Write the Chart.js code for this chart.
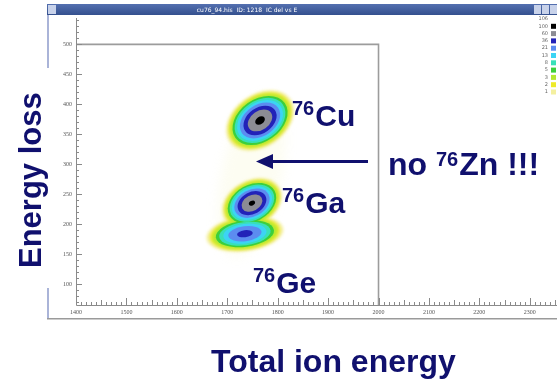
<!DOCTYPE html>
<html>
<head>
<meta charset="utf-8">
<style>
  html, body { margin: 0; padding: 0; background: #fff; }
  #wrap { width: 557px; height: 387px; }
</style>
<script src="https://cdn.jsdelivr.net/npm/chart.js@4.4.1/dist/chart.umd.min.js"></script>
</head>
<body>
<div id="wrap"><canvas id="myChart" width="557" height="387"></canvas></div>
<script>
// axis tick labels
const xTickLabels = [1400, 1500, 1600, 1700, 1800, 1900, 2000, 2100, 2200, 2300];
const yTickLabels = [100, 150, 200, 250, 300, 350, 400, 450, 500];

// blobs of the 2D histogram (total energy vs energy loss)
const blobNames = ['76Cu', '76Ga', '76Ge', 'tail'];
const blobE = [1765, 1749, 1735, 1748];
const blobDE = [373, 235, 184, 280];
const blobSigmaE = [22, 19.5, 28, 75];
const blobSigmaDE = [16.5, 13.7, 11, 150];
const blobRho = [0.32, 0.28, 0.22, 0.45];
const blobPeak = [110, 105, 42, 1.5];

// colour scale (counts)
const colorLevels = [1, 2, 3, 5, 8, 13, 21, 36, 60, 100];
const levelColors = ['#f4f0a0', '#eeea2a', '#b4e832', '#3ccf3c', '#38e0b8',
                     '#3cd4f4', '#5c8cf0', '#2222b8', '#8c8c94', '#000000'];
const scaleLabels = ['106', '100', '60', '36', '21', '13', '8', '5', '3', '2', '1'];

// gate drawn on the histogram
const gateE = [1400, 2000, 2000];
const gateDE = [500, 500, 65];

const navy = '#10106e';

const windowChrome = {
    id: 'windowChrome',
    beforeDraw(chart) {
        const c = chart.ctx;
        c.save();
        c.fillStyle = '#fff';
        c.fillRect(0, 0, chart.width, chart.height);
        // title bar
        const g = c.createLinearGradient(0, 4, 0, 15);
        g.addColorStop(0, '#5470b0');
        g.addColorStop(1, '#34508e');
        c.fillStyle = g;
        c.fillRect(47, 4, 510, 11);
        c.fillStyle = '#c8d2ea';
        c.fillRect(48, 5, 8, 9);
        [534, 542, 550].forEach(x => c.fillRect(x, 5, 7, 9));
        c.fillStyle = '#fff';
        c.font = '6px "DejaVu Sans"';
        c.textAlign = 'center';
        c.textBaseline = 'middle';
        c.fillText('cu76_94.his  ID: 1218  IC del vs E', 247, 10);
        // borders
        c.fillStyle = '#aab4d8';
        c.fillRect(47, 15, 2, 53);
        c.fillRect(47, 288, 2, 31);
        c.fillStyle = '#9a9a9a';
        c.fillRect(47, 318, 510, 1.5);
        c.restore();
    }
};

function blobEllipse(c, xs, ys, i, level) {
    const r = Math.sqrt(2 * Math.log(blobPeak[i] / level));
    const cx = xs.getPixelForValue(blobE[i]);
    const cy = ys.getPixelForValue(blobDE[i]);
    const sx = Math.abs(xs.getPixelForValue(blobE[i] + blobSigmaE[i]) - cx);
    const sy = Math.abs(ys.getPixelForValue(blobDE[i] + blobSigmaDE[i]) - cy);
    const a = sx * sx, d = sy * sy, b = -blobRho[i] * sx * sy;
    const t = (a + d) / 2, q = Math.sqrt(((a - d) / 2) ** 2 + b * b);
    const ang = 0.5 * Math.atan2(2 * b, a - d);
    c.beginPath();
    c.ellipse(cx, cy, r * Math.sqrt(t + q), r * Math.sqrt(Math.max(t - q, 0.01)), ang, 0, Math.PI * 2);
    c.fill();
}

const histogram = {
    id: 'histogram',
    beforeDatasetsDraw(chart) {
        const c = chart.ctx, xs = chart.scales.x, ys = chart.scales.y, area = chart.chartArea;
        c.save();
        c.beginPath();
        c.rect(area.left, area.top, area.right - area.left, area.bottom - area.top);
        c.clip();
        colorLevels.forEach((lv, k) => {
            c.fillStyle = levelColors[k];
            blobPeak.forEach((p, i) => {
                if (p <= lv) return;
                const tail = blobNames[i] === 'tail';
                c.globalAlpha = tail ? 0.14 : 1;
                c.filter = tail ? 'blur(6px)' : (k < 3 ? 'blur(1.4px)' : 'blur(0.7px)');
                blobEllipse(c, xs, ys, i, lv);
            });
        });
        c.restore();
    }
};

const axesAndNotes = {
    id: 'axesAndNotes',
    afterDraw(chart) {
        const c = chart.ctx, xs = chart.scales.x, ys = chart.scales.y, area = chart.chartArea;
        c.save();
        // axis lines
        c.strokeStyle = '#8a8a8a';
        c.lineWidth = 1;
        c.beginPath();
        c.moveTo(area.left + 0.5, area.top);
        c.lineTo(area.left + 0.5, area.bottom + 0.5);
        c.lineTo(area.right, area.bottom + 0.5);
        c.stroke();
        // inward ticks
        c.beginPath();
        for (let v = Math.ceil(ys.min / 10) * 10; v <= ys.max; v += 10) {
            const y = Math.round(ys.getPixelForValue(v)) + 0.5;
            const len = v % 50 === 0 ? 6 : 3;
            c.moveTo(area.left, y);
            c.lineTo(area.left + len, y);
        }
        for (let v = Math.ceil(xs.min / 10) * 10; v <= xs.max; v += 10) {
            const x = Math.round(xs.getPixelForValue(v)) + 0.5;
            const len = v % 100 === 0 ? 7 : (v % 50 === 0 ? 5 : 3);
            c.moveTo(x, area.bottom);
            c.lineTo(x, area.bottom - len);
        }
        c.stroke();

        // colour scale
        c.font = '5px "DejaVu Sans"';
        c.textAlign = 'right';
        c.textBaseline = 'middle';
        scaleLabels.forEach((s, i) => {
            const y = 19 + i * 7.3;
            c.fillStyle = '#666';
            c.fillText(s, 548, y);
            if (i > 0) {
                c.fillStyle = levelColors[levelColors.length - i];
                c.fillRect(551, y - 2.5, 5, 5);
            }
        });

        // axis titles
        c.fillStyle = navy;
        c.textBaseline = 'alphabetic';
        c.textAlign = 'left';
        c.font = 'bold 32px "Liberation Sans", Arial, sans-serif';
        c.fillText('Total ion energy', 211, 372);
        c.save();
        c.translate(40.5, 268);
        c.rotate(-Math.PI / 2);
        c.font = 'bold 31px "Liberation Sans", Arial, sans-serif';
        c.fillText('Energy loss', 0, 0);
        c.restore();

        // isotope labels
        const iso = (x, y, sup, txt, big) => {
            c.font = 'bold 20px "Liberation Sans", Arial, sans-serif';
            c.fillText(sup, x, y - 11);
            const w = c.measureText(sup).width;
            c.font = 'bold ' + big + 'px "Liberation Sans", Arial, sans-serif';
            c.fillText(txt, x + w + 1, y);
        };
        iso(292, 126, '76', 'Cu', 30);
        iso(282, 213, '76', 'Ga', 30);
        iso(253, 293, '76', 'Ge', 30);

        // no 76Zn !!!
        c.font = 'bold 32px "Liberation Sans", Arial, sans-serif';
        c.fillText('no ', 388, 175);
        let x = 388 + c.measureText('no ').width;
        c.font = 'bold 20px "Liberation Sans", Arial, sans-serif';
        c.fillText('76', x, 166);
        x += c.measureText('76').width + 1;
        c.font = 'bold 32px "Liberation Sans", Arial, sans-serif';
        c.fillText('Zn !!!', x, 175);

        // arrow
        c.strokeStyle = navy;
        c.lineWidth = 3;
        c.beginPath();
        c.moveTo(368, 161.5);
        c.lineTo(268, 161.5);
        c.stroke();
        c.beginPath();
        c.moveTo(256, 161.5);
        c.lineTo(273, 154);
        c.lineTo(273, 169);
        c.closePath();
        c.fill();
        c.restore();
    }
};

const ctx = document.getElementById('myChart').getContext('2d');
const myChart = new Chart(ctx, {
    type: 'scatter',
    data: {
        datasets: [{
            label: 'gate',
            data: gateE.map((e, i) => ({ x: e, y: gateDE[i] })),
            showLine: true,
            borderColor: '#9c9c9c',
            borderWidth: 1.6,
            pointRadius: 0,
            fill: false
        }]
    },
    options: {
        responsive: false,
        animation: false,
        layout: { padding: { top: 18, left: 0, right: 0, bottom: 0 } },
        plugins: { legend: { display: false }, tooltip: { enabled: false } },
        scales: {
            x: {
                type: 'linear', min: 1400, max: 2354,
                grid: { display: false, drawTicks: false },
                border: { display: false },
                afterBuildTicks: s => { s.ticks = xTickLabels.map(v => ({ value: v })); },
                afterFit: s => { s.height = 82; },
                ticks: {
                    autoSkip: false, maxRotation: 0, padding: 4,
                    color: '#555', font: { family: 'Liberation Serif', size: 6 },
                    callback: v => String(v)
                }
            },
            y: {
                type: 'linear', min: 65, max: 544,
                grid: { display: false, drawTicks: false },
                border: { display: false },
                afterBuildTicks: s => { s.ticks = yTickLabels.map(v => ({ value: v })); },
                afterFit: s => { s.width = 76; },
                ticks: {
                    autoSkip: false, padding: 4,
                    color: '#555', font: { family: 'Liberation Serif', size: 6 },
                    callback: v => String(v)
                }
            }
        }
    },
    plugins: [windowChrome, histogram, axesAndNotes]
});
</script>
</body>
</html>
